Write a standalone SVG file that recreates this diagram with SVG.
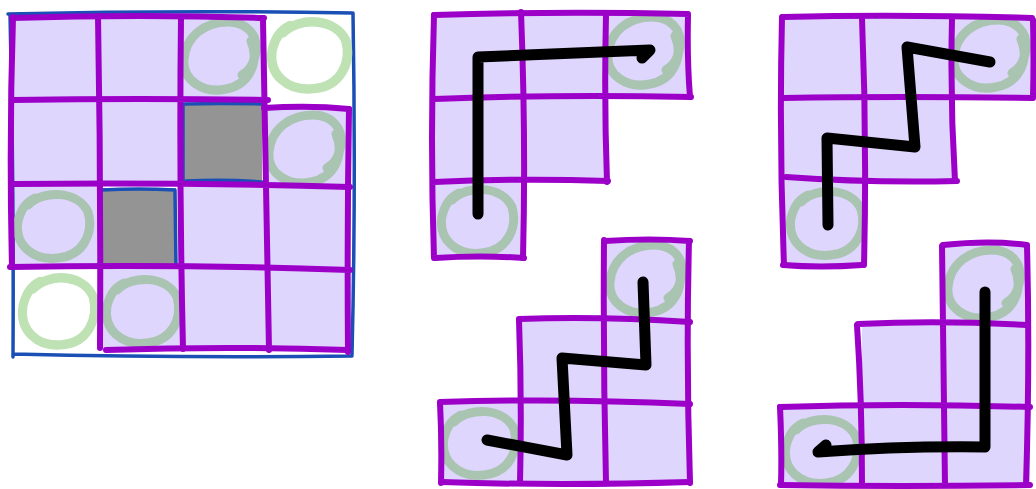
<svg xmlns="http://www.w3.org/2000/svg" xmlns:xlink="http://www.w3.org/1999/xlink" width="1036" height="489" viewBox="0 0 1036 489">
<style>
.cell{fill:#ded6fc;stroke:none}
.gray{fill:#949494;stroke:none}
.pl{fill:none;stroke:#9c00c8;stroke-width:6;stroke-linecap:round;stroke-linejoin:round}
.bl{fill:none;stroke:#1a4fb5;stroke-width:3.5;stroke-linecap:round;stroke-linejoin:round}
.ringL{fill:none;stroke:#aac4b2;stroke-width:9;stroke-linecap:round}
.ringW{fill:none;stroke:#bee2b4;stroke-width:9;stroke-linecap:round}
.route{fill:none;stroke:#000;stroke-width:11;stroke-linecap:round;stroke-linejoin:round}
</style>
<defs>
<path id="ring" d="M30 -16 C39 5 28 28 5 32 C-18 37 -39 23 -37 2 C-35 -21 -16 -35 7 -35 C25 -35 37 -23 35 -5 C32 9 28 14 21 18"/>
<path id="ringB" d="M-25 -21 C-9 -37 25 -35 35 -14 C41 7 30 30 5 32 C-21 35 -39 18 -35 -5 C-32 -16 -28 -23 -18 -28"/>
</defs>

<g id="grid-left">
  <rect class="cell" x="12" y="17" width="252" height="83"/>
  <rect class="cell" x="12" y="100" width="170" height="84"/>
  <rect class="cell" x="264" y="108" width="86" height="76"/>
  <rect class="cell" x="12" y="184" width="87" height="83"/>
  <rect class="cell" x="182" y="184" width="168" height="83"/>
  <rect class="cell" x="99" y="267" width="251" height="83"/>
  <rect class="gray" x="184" y="104" width="78" height="78"/>
  <rect class="gray" x="101" y="188" width="75" height="78"/>
  <path class="bl" d="M8 14 Q180 10 352 13 M10 14 Q14 190 13 357 M13 354 Q180 358 352 356 M353 13 Q356 190 352 355"/>
  <path class="bl" d="M183 180 L183 104 Q220 103 262 104 M186 181 Q225 179 262 182"/>
  <path class="bl" d="M101 190 Q140 188 175 190 L176 266 Q140 264 103 266"/>
  <use href="#ring" x="221" y="57" class="ringL"/>
  <use href="#ringB" x="309" y="55" class="ringW" transform="translate(309 55) scale(1.05) translate(-309 -55)"/>
  <use href="#ring" x="306" y="150" class="ringL"/>
  <use href="#ringB" x="53" y="226" class="ringL"/>
  <use href="#ringB" x="58" y="311" class="ringW" transform="translate(58 311) scale(1 1.05) translate(-58 -311)"/>
  <use href="#ringB" x="142" y="311" class="ringL"/>
  <path class="pl" d="M12 18 Q140 14 264 18 M12 100 Q140 98 268 100 M264 108 Q310 105 349 109 M12 184 Q180 182 350 187 M10 267 Q180 264 350 270 M106 350 Q230 346 348 350"/>
  <path class="pl" d="M13 17 Q9 140 12 267 M98 16 Q101 180 100 348 M181 18 Q179 180 183 349 M263 20 Q266 180 269 350 M349 109 Q347 230 348 352"/>
</g>

<g id="shape-mid-top">
  <rect class="cell" x="433" y="14" width="255" height="83"/>
  <rect class="cell" x="433" y="97" width="172" height="85"/>
  <rect class="cell" x="433" y="182" width="89" height="76"/>
  <use href="#ring" x="645" y="52" class="ringL"/>
  <use href="#ringB" x="477" y="221" class="ringL"/>
  <path class="pl" d="M434 15 Q560 11 688 14 M434 99 Q560 94 691 97 M434 182 Q520 178 608 181 M435 258 Q480 255 524 258"/>
  <path class="pl" d="M434 15 Q430 140 434 258 M521 12 Q526 140 523 258 M606 15 Q604 100 607 182 M688 16 Q687 60 690 97"/>
</g>

<g id="shape-mid-bottom">
  <rect class="cell" x="604" y="240" width="85" height="80"/>
  <rect class="cell" x="520" y="320" width="169" height="83"/>
  <rect class="cell" x="440" y="403" width="249" height="80"/>
  <use href="#ring" x="647" y="280" class="ringL"/>
  <use href="#ringB" x="479" y="443" class="ringL"/>
  <path class="pl" d="M605 241 Q650 238 690 241 M519 319 Q600 316 690 322 M440 402 Q560 398 690 404 M442 482 Q560 486 690 482"/>
  <path class="pl" d="M440 403 Q442 440 441 483 M519 320 Q522 400 520 483 M604 240 Q603 360 606 483 M689 241 Q686 360 690 483"/>
</g>

<g id="shape-right-top">
  <rect class="cell" x="782" y="17" width="251" height="81"/>
  <rect class="cell" x="782" y="98" width="171" height="84"/>
  <rect class="cell" x="782" y="182" width="81" height="83"/>
  <use href="#ring" x="991" y="55" class="ringL"/>
  <use href="#ringB" x="826" y="223" class="ringL"/>
  <path class="pl" d="M783 17 Q900 14 1032 18 M783 98 Q900 96 1033 98 M786 177 Q870 183 957 181 M783 265 Q820 268 862 265"/>
  <path class="pl" d="M782 17 Q779 140 784 265 M862 18 Q867 140 864 265 M952 19 Q950 100 955 181 M1033 20 Q1034 60 1033 97"/>
</g>

<g id="shape-right-bottom">
  <rect class="cell" x="942" y="245" width="88" height="80"/>
  <rect class="cell" x="862" y="325" width="168" height="82"/>
  <rect class="cell" x="780" y="407" width="250" height="78"/>
  <use href="#ring" x="985" y="285" class="ringL"/>
  <use href="#ringB" x="821" y="451" class="ringL"/>
  <path class="pl" d="M943 245 Q990 240 1027 245 M858 324 Q940 320 1027 325 M780 407 Q900 403 1030 407 M780 485 Q900 487 1030 485"/>
  <path class="pl" d="M780 407 Q782 450 781 485 M857 325 Q862 400 862 485 M942 246 Q943 360 945 485 M1027 246 Q1030 360 1026 485"/>
</g>

<g id="connectors">
  <path class="route" d="M478 214 L478 57 Q560 54 650 50 L642 58"/>
  <path class="route" d="M643 282 L646 365 L562 358 L567 455 L487 440"/>
  <path class="route" d="M828 225 L827 138 L915 147 L907 47 L990 62"/>
  <path class="route" d="M985 292 L985 447 Q900 446 818 452 L826 445"/>
</g>
</svg>
